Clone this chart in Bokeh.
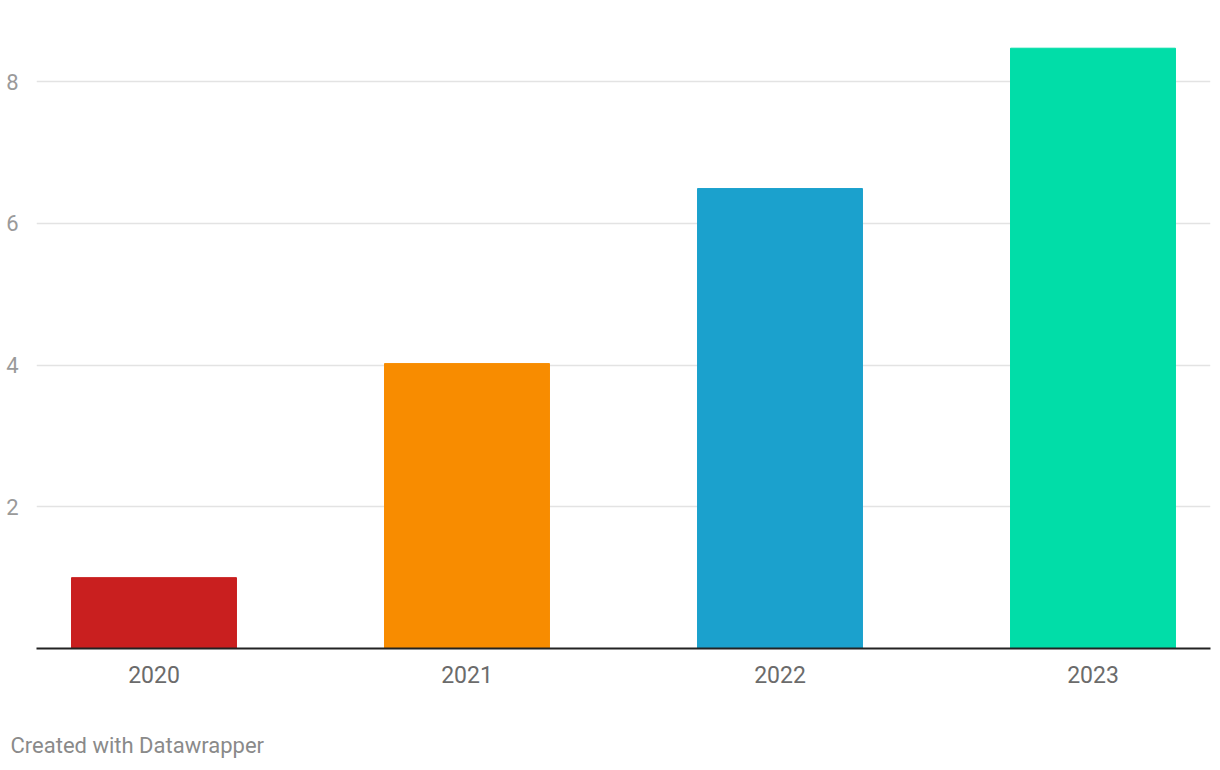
from bokeh.plotting import figure
from bokeh.models import ColumnDataSource, FixedTicker, Range1d, Title, LinearAxis
from bokeh.embed import file_html
from bokeh.resources import INLINE

years = ["2020", "2021", "2022", "2023"]
values = [1.0, 4.02, 6.49, 8.47]
colors = ["#c91f1f", "#f88c00", "#1ba1cd", "#01dda8"]
y_ticks = [2, 4, 6, 8]

idx = list(range(len(years)))
src = ColumnDataSource(dict(x=idx, top=values, color=colors))

p = figure(width=1220, height=770, output_backend="svg", toolbar_location=None,
           x_range=Range1d(-0.3754, len(years) - 1 + 0.3754),
           y_range=Range1d(0, 8.607),
           min_border_left=36, min_border_right=10, min_border_top=38, min_border_bottom=122)
p.outline_line_color = None
p.background_fill_color = "white"
p.border_fill_color = "white"

p.vbar(x="x", top="top", bottom=0, width=0.527, color="color", source=src)

# x axis
p.xaxis.ticker = FixedTicker(ticks=idx)
p.xaxis.major_label_overrides = {i: y for i, y in zip(idx, years)}
p.xaxis.axis_line_color = "#222222"
p.xaxis.axis_line_width = 2
p.xaxis.major_tick_line_color = None
p.xaxis.minor_tick_line_color = None
p.xaxis.major_label_text_font = "Roboto"
p.xaxis.major_label_text_font_size = "23px"
p.xaxis.major_label_text_color = "#6b6b6b"
p.xaxis.major_label_standoff = 11

# y axis
p.yaxis.ticker = FixedTicker(ticks=y_ticks)
p.yaxis.axis_line_color = None
p.yaxis.major_tick_line_color = None
p.yaxis.minor_tick_line_color = None
p.yaxis.major_label_text_font = "Roboto"
p.yaxis.major_label_text_font_size = "22px"
p.yaxis.major_label_text_color = "#9a9a9a"
p.yaxis.major_label_standoff = 12

p.xgrid.grid_line_color = None
p.ygrid.ticker = FixedTicker(ticks=y_ticks)
p.ygrid.grid_line_color = "#e3e3e3"
p.ygrid.grid_line_width = 1.5

# invisible spacer axis between the x axis and the footer
spacer = LinearAxis(ticker=FixedTicker(ticks=[0]), axis_line_color=None,
                    major_tick_line_color="white", minor_tick_line_color=None,
                    major_tick_out=33, major_tick_in=0, minor_tick_out=0,
                    major_label_standoff=0, major_label_overrides={0: ""},
                    major_label_text_font_size="1px")
p.add_layout(spacer, "below")

footer = Title(text="Created with Datawrapper", align="left", offset=-26,
               text_font="Roboto", text_font_size="22px", text_font_style="normal",
               text_color="#8a8a8a", standoff=24)
p.add_layout(footer, "below")

open("out.html", "w").write(file_html(p, INLINE))
